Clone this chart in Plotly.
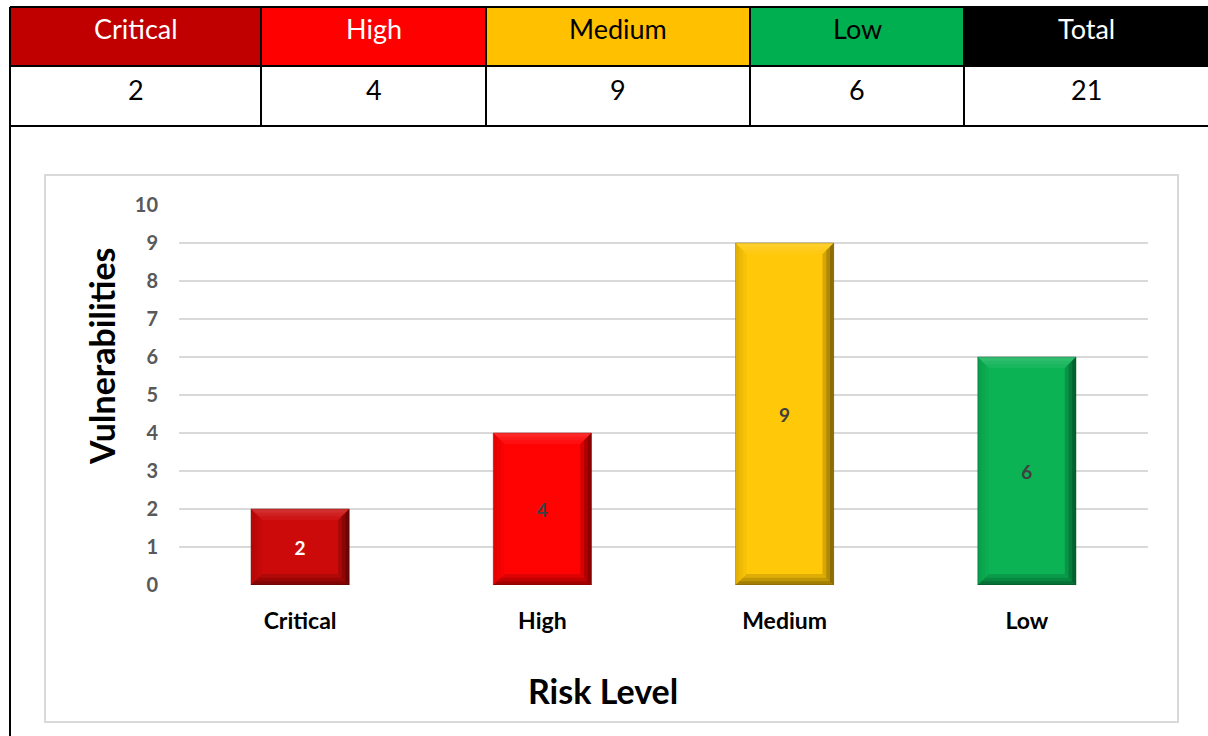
import plotly.graph_objects as go

# Risk summary data
risk_levels = ["Critical", "High", "Medium", "Low"]
vuln_counts = [2, 4, 9, 6]
header_labels = ["Critical", "High", "Medium", "Low", "Total"]
header_fills = ["#C00000", "#FF0000", "#FFC000", "#00B050", "#000000"]
header_text_colors = ["#FFFFFF", "#FFFFFF", "#000000", "#000000", "#FFFFFF"]
bar_colors = ["#CC0A0A", "#FF0303", "#FFC808", "#0CB355"]
bar_edge_colors = ["#6A0000", "#9A0000", "#8A6800", "#005A28"]
bar_label_colors = ["#FFFFFF", "#404040", "#404040", "#404040"]
y_ticks = list(range(0, 11))

W, H = 1208, 736
FONT = "Lato"
BARGAP = 0.595


def px(x):
    return x / W


def py(y):
    return 1 - y / H


table_values = vuln_counts + [sum(vuln_counts)]
col_edges = [10, 261, 486, 750, 964, 1208]
row_edges = [7, 66, 126]

fig = go.Figure()
fig.add_trace(go.Bar(
    x=risk_levels,
    y=vuln_counts,
    text=[str(v) for v in vuln_counts],
    textposition="inside",
    insidetextanchor="middle",
    textfont=dict(family=FONT, size=19, color=bar_label_colors, weight="bold"),
    marker=dict(color=bar_colors, line=dict(color=bar_edge_colors, width=0.5)),
    hoverinfo="skip",
))

shapes = []
annotations = []

# Bevelled edges on each bar (positions derived from the bar values);
# each face is drawn in nested layers so the shading fades toward the centre.
half_w = (1 - BARGAP) / 2
bev_x, bev_y = 0.046, 0.29
layers = [(1.0, 0.5), (0.66, 0.5), (0.33, 0.6)]
for i, v in enumerate(vuln_counts):
    xl, xr = i - half_w, i + half_w
    for frac, k in layers:
        dx, dy = bev_x * frac, bev_y * frac
        xli, xri = xl + dx, xr - dx
        yti, ybi = v - dy, dy
        faces = [
            (f"M{xl},{v} L{xr},{v} L{xri},{yti} L{xli},{yti} Z", f"rgba(255,255,255,{0.10 * k:.3f})"),
            (f"M{xl},{v} L{xli},{yti} L{xli},{ybi} L{xl},0 Z", f"rgba(0,0,0,{0.06 * k:.3f})"),
            (f"M{xl},0 L{xr},0 L{xri},{ybi} L{xli},{ybi} Z", f"rgba(0,0,0,{0.26 * k:.3f})"),
            (f"M{xr},{v} L{xr},0 L{xri},{ybi} L{xri},{yti} Z", f"rgba(0,0,0,{0.34 * k:.3f})"),
        ]
        for path, fill in faces:
            shapes.append(dict(type="path", xref="x", yref="y", path=path,
                               fillcolor=fill, line=dict(width=0), layer="above"))

# Summary table: coloured header row and value row
for i, label in enumerate(header_labels):
    x0, x1 = col_edges[i], col_edges[i + 1]
    shapes.append(dict(type="rect", xref="paper", yref="paper",
                       x0=px(x0), x1=px(x1), y0=py(row_edges[1]), y1=py(row_edges[0]),
                       fillcolor=header_fills[i], line=dict(width=0), layer="below"))
    annotations.append(dict(xref="paper", yref="paper", x=px((x0 + x1) / 2), y=py(29),
                            text=label, showarrow=False, xanchor="center", yanchor="middle",
                            font=dict(family=FONT, size=27, color=header_text_colors[i])))
    annotations.append(dict(xref="paper", yref="paper", x=px((x0 + x1) / 2), y=py(89),
                            text=str(table_values[i]), showarrow=False, xanchor="center",
                            yanchor="middle", font=dict(family=FONT, size=27, color="#000000")))

line_style = dict(color="#000000", width=2)
for y in row_edges:
    shapes.append(dict(type="line", xref="paper", yref="paper", x0=px(10), x1=1,
                       y0=py(y), y1=py(y), line=line_style))
for x in col_edges[1:-1]:
    shapes.append(dict(type="line", xref="paper", yref="paper", x0=px(x), x1=px(x),
                       y0=py(row_edges[0]), y1=py(row_edges[2]), line=line_style))
shapes.append(dict(type="line", xref="paper", yref="paper", x0=px(10), x1=px(10),
                   y0=py(row_edges[0]), y1=0, line=line_style))

# Chart frame
shapes.append(dict(type="rect", xref="paper", yref="paper",
                   x0=px(45), x1=px(1178), y0=py(722), y1=py(175),
                   line=dict(color="#D9D9D9", width=2), fillcolor="rgba(0,0,0,0)", layer="below"))

# Axis titles
annotations.append(dict(xref="paper", yref="paper", x=px(101), y=py(356),
                        text="<b>Vulnerabilities</b>", textangle=-90, showarrow=False,
                        xanchor="center", yanchor="middle",
                        font=dict(family=FONT, size=34, color="#000000")))
annotations.append(dict(xref="paper", yref="paper", x=px(603), y=py(690),
                        text="<b>Risk Level</b>", showarrow=False,
                        xanchor="center", yanchor="middle",
                        font=dict(family=FONT, size=34, color="#000000")))

fig.update_layout(
    width=W, height=H,
    margin=dict(l=0, r=0, t=0, b=0, autoexpand=False),
    paper_bgcolor="#FFFFFF",
    plot_bgcolor="#FFFFFF",
    showlegend=False,
    bargap=BARGAP,
    shapes=shapes,
    annotations=annotations,
    xaxis=dict(domain=[px(179), px(1148)], showgrid=False, zeroline=False,
               showline=False, ticks="", ticklabelstandoff=20, automargin=False,
               tickfont=dict(family=FONT, size=23, color="#000000", weight="bold")),
    yaxis=dict(domain=[py(585), py(205)], range=[0, 10], tickvals=y_ticks,
               showgrid=True, gridcolor="#D9D9D9", gridwidth=2, automargin=False,
               zeroline=False, showline=False, ticks="", ticklabelstandoff=20,
               tickfont=dict(family=FONT, size=20, color="#595959", weight="bold")),
)

fig.write_html("out.html")
